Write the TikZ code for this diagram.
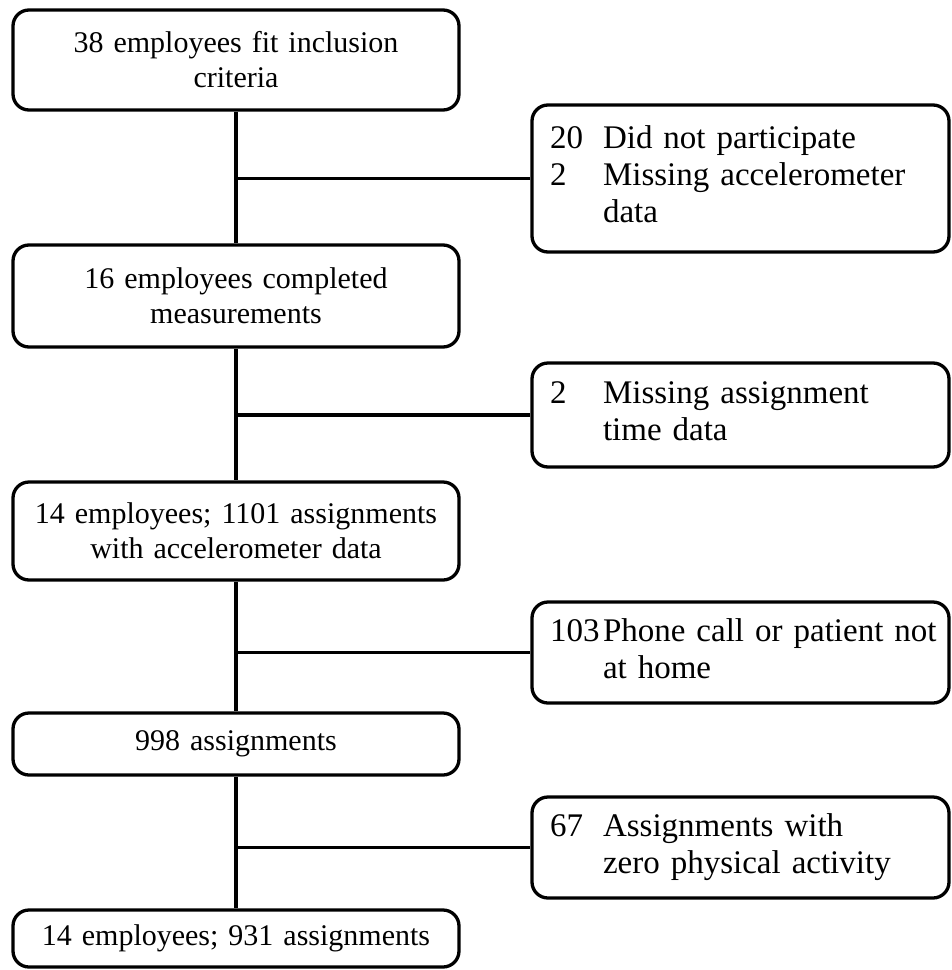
\documentclass[tikz,border=0pt]{standalone}
\usepackage{fontspec}
\setmainfont{Liberation Serif}
\begin{document}
\begin{tikzpicture}[x=1pt,y=-1pt,
  every node/.style={font=\fontsize{30}{35}\selectfont},
  mainbox/.style={draw, line width=3.3pt, rounded corners=16pt, minimum width=446pt, text width=420pt, align=center, inner xsep=13pt, inner ysep=0pt},
  sidebox/.style={draw, line width=3.3pt, rounded corners=16pt, text width=381pt, inner xsep=18pt, inner ysep=0pt, align=left, font=\fontsize{33}{37}\selectfont},
  conn/.style={line width=3.3pt}]
\useasboundingbox (0,0) rectangle (952,970);

\node[mainbox, minimum height=100pt] (b1) at (236,60) {38 employees fit inclusion\\criteria};
\node[mainbox, minimum height=102pt] (b2) at (236,296) {16 employees completed\\measurements};
\node[mainbox, minimum height=98pt] (b3) at (236,531) {14 employees; 1101 assignments\\with accelerometer data};
\node[mainbox, minimum height=62pt] (b4) at (236,744) {998 assignments};
\node[mainbox, minimum height=57pt] (b5) at (236,938.5) {14 employees; 931 assignments};

\node[sidebox, minimum height=147pt] (r1) at (740.5,178.5) {\begin{tabular}{@{}p{53pt}@{}l@{}}20 & Did not participate\\2 & Missing accelerometer\\ & data\end{tabular}};
\node[sidebox, minimum height=104pt] (r2) at (740.5,415) {\begin{tabular}{@{}p{53pt}@{}l@{}}2 & Missing assignment\\ & time data\end{tabular}};
\node[sidebox, minimum height=101pt] (r3) at (740.5,652.5) {\begin{tabular}{@{}p{53pt}@{}l@{}}103 & Phone call or patient not\\ & at home\end{tabular}};
\node[sidebox, minimum height=101pt] (r4) at (740.5,847.5) {\begin{tabular}{@{}p{53pt}@{}l@{}}67 & Assignments with\\ & zero physical activity\end{tabular}};

\draw[conn] (b1.south) -- (b2.north);
\draw[conn] (b2.south) -- (b3.north);
\draw[conn] (b3.south) -- (b4.north);
\draw[conn] (b4.south) -- (b5.north);
\draw[conn] (b1.south |- r1.west) -- (r1.west);
\draw[conn] (b2.south |- r2.west) -- (r2.west);
\draw[conn] (b3.south |- r3.west) -- (r3.west);
\draw[conn] (b4.south |- r4.west) -- (r4.west);
\end{tikzpicture}
\end{document}
